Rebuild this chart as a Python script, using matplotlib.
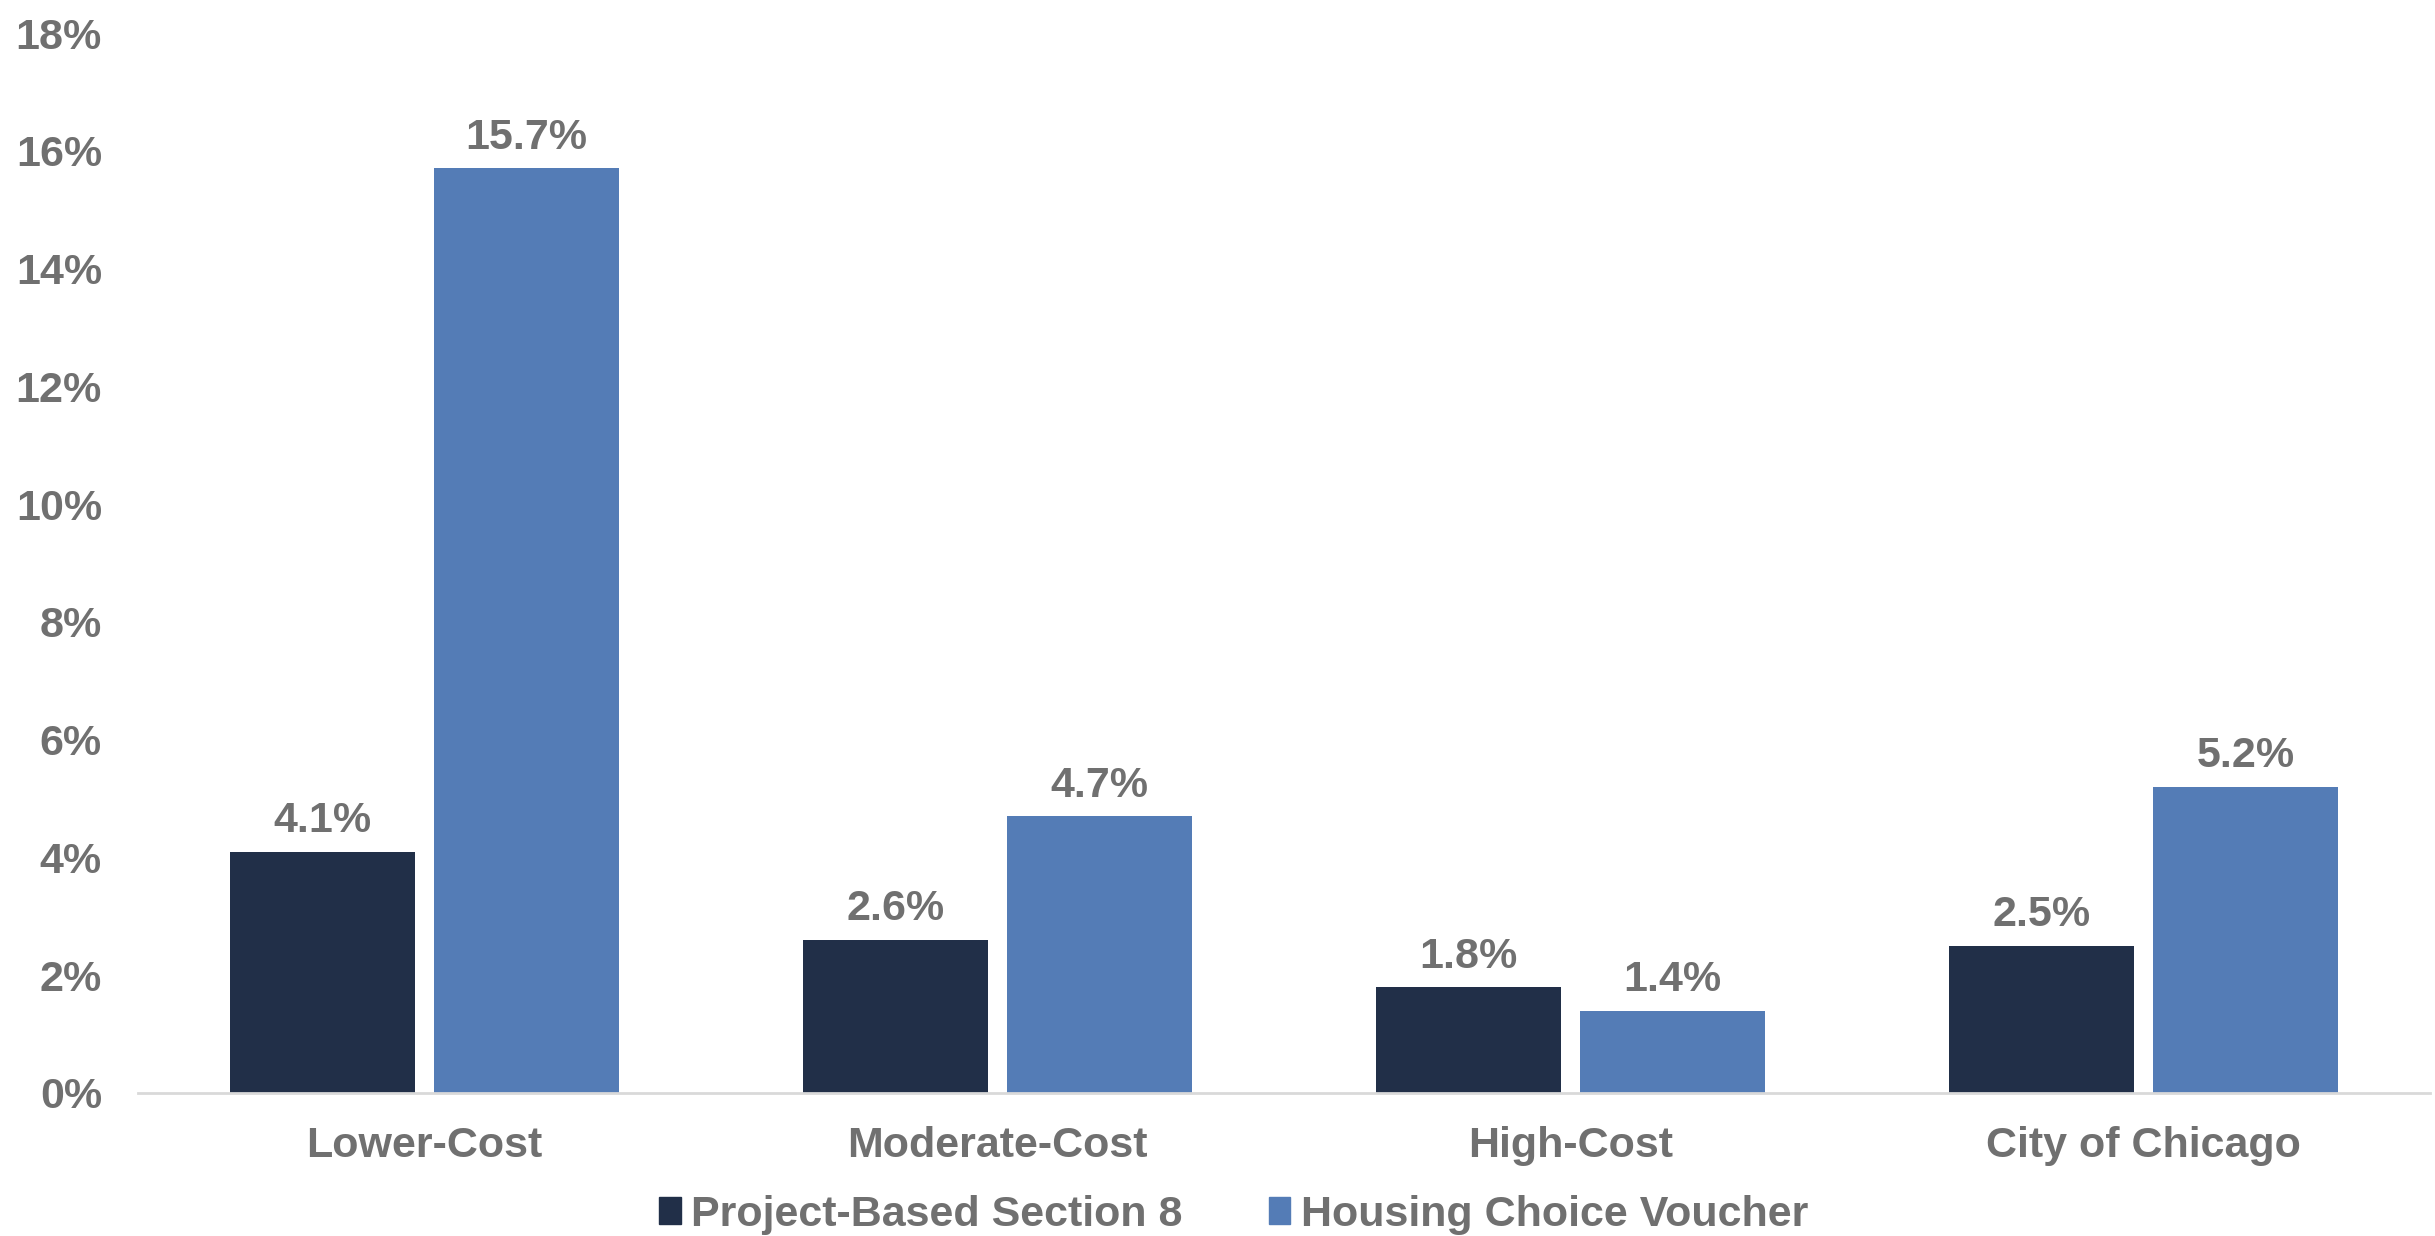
import matplotlib.pyplot as plt
import numpy as np
from matplotlib.patches import Patch

categories = ['Lower-Cost', 'Moderate-Cost', 'High-Cost', 'City of Chicago']
project_based = [4.1, 2.6, 1.8, 2.5]
voucher = [15.7, 4.7, 1.4, 5.2]
series_names = ['Project-Based Section 8', 'Housing Choice Voucher']
y_ticks = [0, 2, 4, 6, 8, 10, 12, 14, 16, 18]

dark = '#212f48'
blue = '#547cb6'
grey = '#707070'

plt.rcParams['font.family'] = ['Liberation Sans', 'DejaVu Sans']
plt.rcParams['font.weight'] = 'bold'

fig = plt.figure(figsize=(24.35, 12.36), dpi=100)
ax = fig.add_axes([0.0567, 0.1157, 0.9413, 0.8576])

x = np.arange(len(categories))
w = 0.323
off = 0.178
b1 = ax.bar(x - off, project_based, w, color=dark)
b2 = ax.bar(x + off, voucher, w, color=blue)

# value labels above each bar
for bars, vals in [(b1, project_based), (b2, voucher)]:
    for rect, v in zip(bars, vals):
        ax.annotate(f'{v:.1f}%', (rect.get_x() + rect.get_width() / 2, v),
                    xytext=(0, 14), textcoords='offset points',
                    ha='center', va='baseline', fontsize=31,
                    fontweight='bold', color=grey)

ax.set_xlim(-0.5, len(categories) - 0.5)
ax.set_ylim(0, 18)
ax.set_yticks(y_ticks)
ax.set_yticklabels([f'{t}%' for t in y_ticks])
ax.set_xticks(x)
ax.set_xticklabels(categories)
ax.tick_params(axis='both', length=0, labelsize=31, labelcolor=grey)
ax.tick_params(axis='y', pad=26)
ax.tick_params(axis='x', pad=24)
for lab in ax.get_yticklabels() + ax.get_xticklabels():
    lab.set_fontweight('bold')

for s in ['top', 'right', 'left']:
    ax.spines[s].set_visible(False)
ax.spines['bottom'].set_color('#d9d9d9')
ax.spines['bottom'].set_linewidth(2)

handles = [Patch(color=dark), Patch(color=blue)]
leg = fig.legend(handles, series_names, loc='center', bbox_to_anchor=(0.5067, 0.017),
                 ncol=2, frameon=False, fontsize=31, handlelength=0.5,
                 handleheight=0.6, handletextpad=0.25, columnspacing=2.0,
                 borderpad=0)
for t in leg.get_texts():
    t.set_color(grey)
    t.set_fontweight('bold')

fig.savefig('out.png', dpi=100)
